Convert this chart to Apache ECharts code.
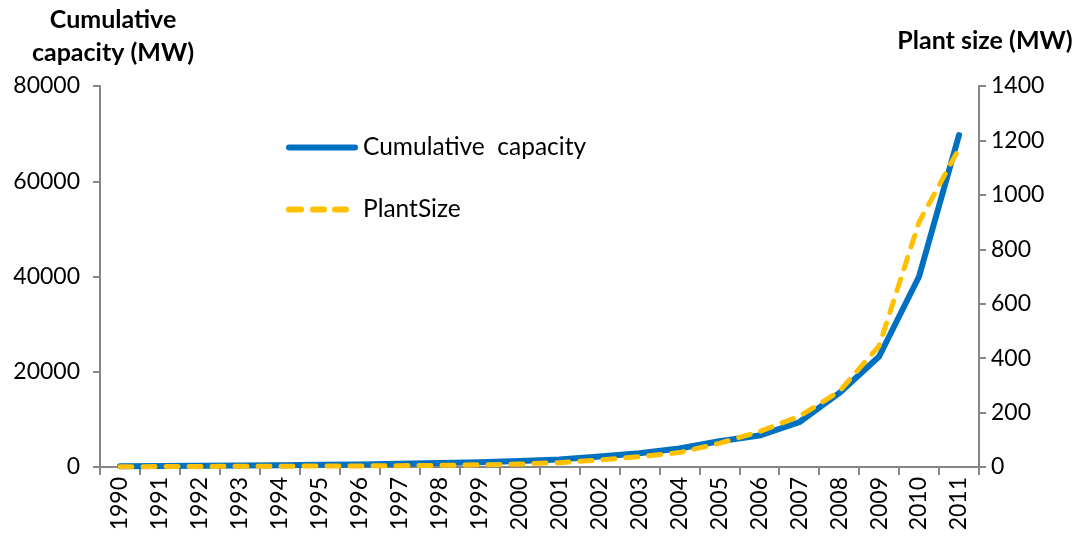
<!DOCTYPE html>
<html><head><meta charset="utf-8">
<script src="https://cdn.jsdelivr.net/npm/echarts@6/dist/echarts.min.js"></script>
<style>html,body{margin:0;padding:0;background:#fff}#c{width:1080px;height:543px}</style>
</head><body><div id="c"></div>
<script>
const years = ['1990','1991','1992','1993','1994','1995','1996','1997','1998','1999','2000','2001','2002','2003','2004','2005','2006','2007','2008','2009','2010','2011'];
const cumulativeCapacity = [150,200,250,300,380,450,550,700,850,1000,1250,1600,2200,2900,3900,5400,6600,9400,15500,23200,40000,69700];
const plantSize = [1,1.5,2,2.5,3,3.5,4,5,6,8,11,16,26,38,53,87,130,186,277,445,900,1170];
const leftTicks = [0,20000,40000,60000,80000];
const rightTicks = [0,200,400,600,800,1000,1200,1400];

const FONT = 'Lato';
const chart = echarts.init(document.getElementById('c'));
const axisGray = '#868686';
const blueStyle = {color:'#0070C0',width:6,cap:'round',join:'round'};
const yellowStyle = {color:'#FFC000',width:5,type:[12,11],cap:'round',join:'round'};
const blueIcon = 'path://M3,0H69A3,3 0 0 1 69,6H3A3,3 0 0 1 3,0Z';
const yellowIcon = 'path://M3,0H15A3,3 0 0 1 15,6H3A3,3 0 0 1 3,0Z M27,0H38A3,3 0 0 1 38,6H27A3,3 0 0 1 27,0Z M49,0H60A3,3 0 0 1 60,6H49A3,3 0 0 1 49,0Z M72,3L72,3';
chart.setOption({
  animation:false,
  textStyle:{fontFamily:FONT},
  grid:{left:100,right:101,top:86,bottom:76,containLabel:false},
  legend:{
    orient:'vertical', left:281, top:130, itemWidth:72, itemHeight:6, itemGap:37,
    symbolKeepAspect:false,
    textStyle:{fontFamily:FONT,fontSize:24.5,color:'#000'},
    data:[
      {name:'Cumulative  capacity', icon:blueIcon, itemStyle:{color:'#0070C0'}},
      {name:'PlantSize', icon:yellowIcon, itemStyle:{color:'#FFC000'}}
    ]
  },
  graphic:[
    {type:'text', style:{text:'Cumulative\ncapacity (MW)', x:113, y:3, textAlign:'center', font:'bold 25px '+FONT, fill:'#000', lineHeight:33}},
    {type:'text', style:{text:'Plant size (MW)', x:985, y:28, textAlign:'center', font:'bold 25px '+FONT, fill:'#000'}}
  ],
  xAxis:{
    type:'category', data:years, boundaryGap:true,
    axisLine:{lineStyle:{color:axisGray,width:2}},
    axisTick:{show:true,length:8,lineStyle:{color:axisGray,width:2},alignWithLabel:false},
    axisLabel:{rotate:90,fontSize:23,color:'#000',margin:10,interval:0}
  },
  yAxis:[
    {type:'value', min:0, max:80000, interval:20000, position:'left',
     axisLine:{show:true,lineStyle:{color:axisGray,width:2}},
     axisTick:{show:true,length:7,lineStyle:{color:axisGray,width:2}},
     splitLine:{show:false},
     axisLabel:{fontSize:23,color:'#000',margin:20,formatter:v=>String(v)}},
    {type:'value', min:0, max:1400, interval:200, position:'right',
     axisLine:{show:true,lineStyle:{color:axisGray,width:2}},
     axisTick:{show:true,length:7,lineStyle:{color:axisGray,width:2}},
     splitLine:{show:false},
     axisLabel:{fontSize:23,color:'#000',margin:12,formatter:v=>String(v)}}
  ],
  series:[
    {name:'Cumulative  capacity', type:'line', yAxisIndex:0, data:cumulativeCapacity,
     showSymbol:false, symbol:'none', lineStyle:blueStyle, itemStyle:{color:'#0070C0'}, z:2},
    {name:'PlantSize', type:'line', yAxisIndex:1, data:plantSize,
     showSymbol:false, symbol:'none', lineStyle:yellowStyle, itemStyle:{color:'#FFC000'}, z:3}
  ]
});
</script></body></html>
